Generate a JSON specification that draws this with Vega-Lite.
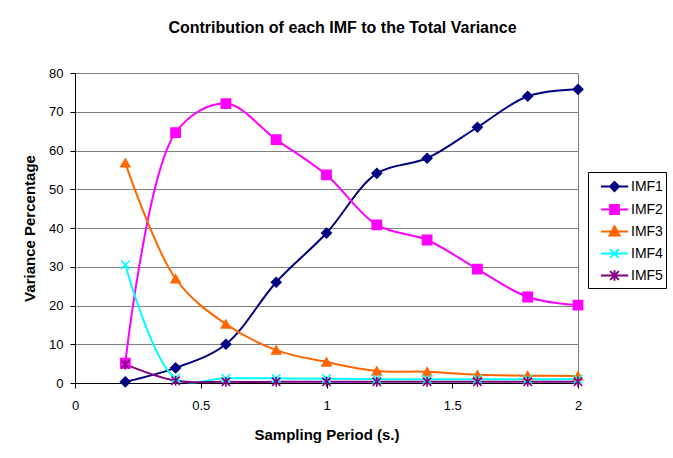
{
  "$schema": "https://vega.github.io/schema/vega-lite/v6.json",
  "autosize": "none",
  "width": 503,
  "height": 310,
  "padding": {"left": 75, "top": 73, "right": 95, "bottom": 75},
  "background": "white",
  "config": {
    "font": "Liberation Sans",
    "view": {"stroke": "#808080", "strokeWidth": 1},
    "legend": {
      "title": null, "orient": "none", "legendX": 513, "legendY": 99,
      "strokeColor": "black", "fillColor": "white", "padding": 3,
      "symbolOffset": 12, "labelOffset": 5, "labelFontSize": 14, "labelColor": "black",
      "labelFont": "Liberation Sans", "rowPadding": 2, "symbolStrokeWidth": 2,
      "symbolSize": 441, "symbolOpacity": 1
    }
  },
  "title": {
    "text": "Contribution of each IMF to the Total Variance",
    "fontSize": 16,
    "fontWeight": "bold",
    "font": "Liberation Sans",
    "color": "black",
    "anchor": "middle",
    "dx": 16,
    "offset": 31
  },
  "data": {
    "values": [
      {"period": 0.2, "series": "IMF1", "value": 0.3},
      {"period": 0.4, "series": "IMF1", "value": 3.9},
      {"period": 0.6, "series": "IMF1", "value": 10},
      {"period": 0.8, "series": "IMF1", "value": 26},
      {"period": 1.0, "series": "IMF1", "value": 38.7},
      {"period": 1.2, "series": "IMF1", "value": 54.1},
      {"period": 1.4, "series": "IMF1", "value": 58},
      {"period": 1.6, "series": "IMF1", "value": 66},
      {"period": 1.8, "series": "IMF1", "value": 74},
      {"period": 2.0, "series": "IMF1", "value": 75.8},
      {"period": 0.2, "series": "IMF2", "value": 5.1},
      {"period": 0.4, "series": "IMF2", "value": 64.6},
      {"period": 0.6, "series": "IMF2", "value": 72.1},
      {"period": 0.8, "series": "IMF2", "value": 62.8},
      {"period": 1.0, "series": "IMF2", "value": 53.7},
      {"period": 1.2, "series": "IMF2", "value": 40.8},
      {"period": 1.4, "series": "IMF2", "value": 36.9},
      {"period": 1.6, "series": "IMF2", "value": 29.4},
      {"period": 1.8, "series": "IMF2", "value": 22.2},
      {"period": 2.0, "series": "IMF2", "value": 20.1},
      {"period": 0.2, "series": "IMF3", "value": 56.8},
      {"period": 0.4, "series": "IMF3", "value": 26.9},
      {"period": 0.6, "series": "IMF3", "value": 15.2},
      {"period": 0.8, "series": "IMF3", "value": 8.5},
      {"period": 1.0, "series": "IMF3", "value": 5.4},
      {"period": 1.2, "series": "IMF3", "value": 3.1},
      {"period": 1.4, "series": "IMF3", "value": 2.9},
      {"period": 1.6, "series": "IMF3", "value": 2.1},
      {"period": 1.8, "series": "IMF3", "value": 1.9},
      {"period": 2.0, "series": "IMF3", "value": 1.8},
      {"period": 0.2, "series": "IMF4", "value": 30.5},
      {"period": 0.4, "series": "IMF4", "value": 1.2},
      {"period": 0.6, "series": "IMF4", "value": 1.2},
      {"period": 0.8, "series": "IMF4", "value": 1.2},
      {"period": 1.0, "series": "IMF4", "value": 1.1},
      {"period": 1.2, "series": "IMF4", "value": 1.0},
      {"period": 1.4, "series": "IMF4", "value": 1.0},
      {"period": 1.6, "series": "IMF4", "value": 1.0},
      {"period": 1.8, "series": "IMF4", "value": 1.0},
      {"period": 2.0, "series": "IMF4", "value": 1.0},
      {"period": 0.2, "series": "IMF5", "value": 4.8},
      {"period": 0.4, "series": "IMF5", "value": 0.6},
      {"period": 0.6, "series": "IMF5", "value": 0.3},
      {"period": 0.8, "series": "IMF5", "value": 0.3},
      {"period": 1.0, "series": "IMF5", "value": 0.3},
      {"period": 1.2, "series": "IMF5", "value": 0.3},
      {"period": 1.4, "series": "IMF5", "value": 0.3},
      {"period": 1.6, "series": "IMF5", "value": 0.3},
      {"period": 1.8, "series": "IMF5", "value": 0.3},
      {"period": 2.0, "series": "IMF5", "value": 0.3}
    ]
  },
  "encoding": {
    "x": {
      "field": "period",
      "type": "quantitative",
      "scale": {"domain": [0, 2], "nice": false},
      "axis": {
        "title": "Sampling Period (s.)",
        "titleFontSize": 15,
        "titleFontWeight": "bold",
        "titleColor": "black",
        "titlePadding": 15,
        "labelFontSize": 13,
        "labelColor": "black",
        "labelPadding": 11,
        "values": [0, 0.5, 1, 1.5, 2],
        "format": "~g",
        "tickSize": 5,
        "tickColor": "black",
        "domainColor": "black",
        "grid": false,
        "labelFlush": false
      }
    },
    "y": {
      "field": "value",
      "type": "quantitative",
      "scale": {"domain": [0, 80], "nice": false},
      "axis": {
        "title": "Variance Percentage",
        "titleFontSize": 15,
        "titleFontWeight": "bold",
        "titleColor": "black",
        "titlePadding": 11,
        "labelFontSize": 13,
        "labelColor": "black",
        "labelPadding": 7,
        "values": [0, 10, 20, 30, 40, 50, 60, 70, 80],
        "tickSize": 5,
        "tickColor": "black",
        "domainColor": "black",
        "grid": true,
        "gridColor": "#808080",
        "gridOpacity": 1,
        "gridWidth": 1
      }
    }
  },
  "resolve": {"scale": {"color": "independent", "shape": "independent", "stroke": "independent", "size": "independent"}},
  "layer": [
    {
      "mark": {"type": "line", "interpolate": "catmull-rom", "strokeWidth": 2},
      "encoding": {
        "color": {
          "field": "series",
          "type": "nominal",
          "scale": {"domain": ["IMF1", "IMF2", "IMF3", "IMF4", "IMF5"], "range": ["#000080", "#FF00FF", "#FF6600", "#00FFFF", "#800080"]},
          "legend": null
        }
      }
    },
    {
      "mark": {"type": "point", "filled": true, "opacity": 1, "strokeWidth": 1.6},
      "encoding": {
        "color": {
          "field": "series",
          "type": "nominal",
          "scale": {"domain": ["IMF1", "IMF2", "IMF3", "IMF4", "IMF5"], "range": ["#000080", "#FF00FF", "#FF6600", "#00FFFF", "#800080"]},
          "legend": null
        },
        "stroke": {
          "field": "series",
          "type": "nominal",
          "scale": {"domain": ["IMF1", "IMF2", "IMF3", "IMF4", "IMF5"], "range": ["#000080", "#FF00FF", "#FF6600", "#00FFFF", "#800080"]},
          "legend": null
        },
        "shape": {
          "field": "series",
          "type": "nominal",
          "scale": {"domain": ["IMF1", "IMF2", "IMF3", "IMF4", "IMF5"], "range": ["diamond", "square", "triangle-up", "M-1,-1L1,1M-1,1L1,-1", "M-1,-1L1,1M-1,1L1,-1M0,-1.2L0,1.2"]},
          "legend": null
        },
        "size": {
          "field": "series",
          "type": "nominal",
          "scale": {"domain": ["IMF1", "IMF2", "IMF3", "IMF4", "IMF5"], "range": [90, 70, 100, 90, 90]},
          "legend": null
        }
      }
    },
    {
      "mark": {"type": "point", "filled": true, "opacity": 0, "strokeWidth": 2},
      "encoding": {
        "color": {
          "field": "series",
          "type": "nominal",
          "scale": {"domain": ["IMF1", "IMF2", "IMF3", "IMF4", "IMF5"], "range": ["#000080", "#FF00FF", "#FF6600", "#00FFFF", "#800080"]},
          "legend": {"title": null, "orient": "none", "legendX": 513, "legendY": 99}
        },
        "stroke": {
          "field": "series",
          "type": "nominal",
          "scale": {"domain": ["IMF1", "IMF2", "IMF3", "IMF4", "IMF5"], "range": ["#000080", "#FF00FF", "#FF6600", "#00FFFF", "#800080"]},
          "legend": {"title": null, "orient": "none", "legendX": 513, "legendY": 99}
        },
        "shape": {
          "field": "series",
          "type": "nominal",
          "scale": {"domain": ["IMF1", "IMF2", "IMF3", "IMF4", "IMF5"], "range": [
            "M-1.3,0L1.3,0M0,-0.43L0.43,0L0,0.43L-0.43,0Z",
            "M-1.3,0L1.3,0M-0.42,-0.42L0.42,-0.42L0.42,0.42L-0.42,0.42Z",
            "M-1.3,0L1.3,0M0,-0.5L0.48,0.38L-0.48,0.38Z",
            "M-1.3,0L1.3,0M-0.42,-0.42L0.42,0.42M-0.42,0.42L0.42,-0.42",
            "M-1.3,0L1.3,0M-0.42,-0.42L0.42,0.42M-0.42,0.42L0.42,-0.42M0,-0.5L0,0.5"
          ]},
          "legend": {"title": null, "orient": "none", "legendX": 513, "legendY": 99}
        }
      }
    }
  ]
}
